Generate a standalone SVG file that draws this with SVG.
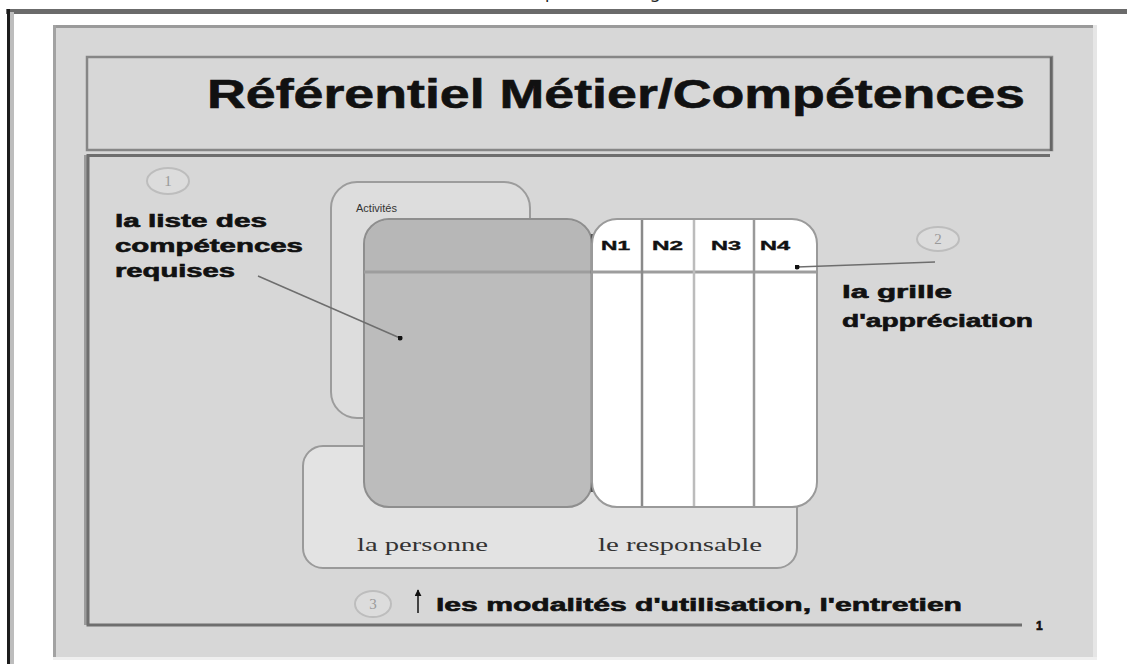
<svg xmlns="http://www.w3.org/2000/svg" width="1127" height="664" viewBox="0 0 1127 664">
  <defs>
    <style>
      .bold { font-family: "Liberation Sans", Arial, sans-serif; font-weight: bold; fill: #111; stroke: #111; stroke-width: 0.6; }
      .num { font-family: "Liberation Serif", serif; font-size: 15px; fill: #9a9a9a; text-anchor: middle; }
      .ring { fill: #dcdcdc; stroke: #bdbdbd; stroke-width: 2; }
      .serif { font-family: "Liberation Serif", "Times New Roman", serif; font-size: 19px; fill: #333; }
      .hdr { font-family: "Liberation Sans", Arial, sans-serif; font-weight: bold; font-size: 13.5px; fill: #111; stroke: #111; stroke-width: 0.4; }
      .pointer { stroke: #6e6e6e; stroke-width: 1.5; fill: none; }
      .col { stroke-width: 2.5; }
    </style>
    <marker id="dot" viewBox="0 0 6 6" refX="3" refY="3" markerWidth="5" markerHeight="5" markerUnits="userSpaceOnUse">
      <circle cx="3" cy="3" r="3" fill="#111"/>
    </marker>
    <!-- arrowhead drawn pointing along +x so orient="auto" follows the line -->
    <marker id="head" viewBox="0 0 8 8" refX="7" refY="4" markerWidth="7" markerHeight="7" markerUnits="userSpaceOnUse" orient="auto">
      <path d="M0,0 L8,4 L0,8 Z" fill="#111"/>
    </marker>
  </defs>

  <!-- page -->
  <rect x="0" y="0" width="1127" height="664" fill="#ffffff"/>
  <text x="545" y="-2" font-family="Noto Sans, sans-serif" font-size="17" fill="#222">p</text>
  <text x="650" y="-2" font-family="Noto Sans, sans-serif" font-size="17" fill="#222">g</text>
  <rect x="6" y="9" width="1121" height="5" fill="#6b6b6b"/>
  <rect x="7" y="9" width="3" height="655" fill="#1c1c1c"/>
  <rect x="10" y="12" width="4" height="652" fill="#bdbdbd"/>

  <!-- slide -->
  <g id="slide">
    <rect x="53" y="25" width="1041" height="632" fill="#d7d7d7"/>
    <rect x="53" y="25" width="1041" height="3" fill="#9a9a9a"/>
    <rect x="53" y="25" width="3" height="632" fill="#a2a2a2"/>
    <rect x="1093" y="25" width="4" height="635" fill="#e6e6e6"/>
    <rect x="53" y="657" width="1044" height="3" fill="#efefef"/>
  </g>

  <!-- title frame -->
  <g id="title">
    <rect x="87" y="57" width="965" height="93" fill="none" stroke="#868686" stroke-width="2.5"/>
    <line x1="1051" y1="57" x2="1051" y2="151" stroke="#666" stroke-width="2.5"/>
    <text class="bold" x="207" y="108" font-size="40" stroke-width="1.2" textLength="818" lengthAdjust="spacingAndGlyphs">Référentiel Métier/Compétences</text>
  </g>

  <!-- content frame -->
  <g id="frame">
    <rect x="84" y="155" width="4" height="470" fill="#9c9c9c"/>
    <path d="M1050,155.5 H88 V625 H1022" fill="none" stroke="#6e6e6e" stroke-width="3"/>
    <text class="bold" x="1036" y="630" font-size="12">1</text>
  </g>

  <!-- label 1 -->
  <g id="label-1">
    <ellipse class="ring" cx="168" cy="181" rx="21" ry="13"/>
    <text class="num" x="168" y="186">1</text>
    <text class="bold" x="115" y="227" font-size="18" textLength="152" lengthAdjust="spacingAndGlyphs">la liste des</text>
    <text class="bold" x="115" y="252" font-size="18" textLength="188" lengthAdjust="spacingAndGlyphs">compétences</text>
    <text class="bold" x="115" y="277" font-size="18" textLength="120" lengthAdjust="spacingAndGlyphs">requises</text>
  </g>

  <!-- activities -->
  <g id="activites">
    <rect x="331" y="182" width="199" height="236" rx="26" fill="#dddddd" stroke="#9c9c9c" stroke-width="2"/>
    <text x="356" y="212" font-family="Liberation Sans, Arial, sans-serif" font-size="11" fill="#333">Activités</text>
  </g>

  <!-- people -->
  <g id="acteurs">
    <rect x="303" y="446" width="494" height="122" rx="20" fill="#e3e3e3" stroke="#9a9a9a" stroke-width="2"/>
    <text class="serif" x="357" y="551" textLength="131" lengthAdjust="spacingAndGlyphs">la personne</text>
    <text class="serif" x="598" y="551" textLength="164" lengthAdjust="spacingAndGlyphs">le responsable</text>
  </g>

  <!-- competence list -->
  <g id="liste">
    <rect x="364" y="219" width="228" height="288" rx="25" fill="#bcbcbc" stroke="#8e8e8e" stroke-width="2"/>
    <path d="M365,272 V245 A25,25 0 0 1 389,220 H567 A25,25 0 0 1 591,245 V272 Z" fill="#b7b7b7"/>
    <line x1="364" y1="272" x2="592" y2="272" stroke="#9d9d9d" stroke-width="3"/>
    <line x1="592" y1="234" x2="592" y2="492" stroke="#555" stroke-width="2.5"/>
  </g>

  <!-- rating grid -->
  <g id="grille">
    <rect x="592" y="219" width="225" height="288" rx="25" fill="#ffffff" stroke="#9a9a9a" stroke-width="2"/>
    <line x1="593" y1="272" x2="816" y2="272" stroke="#9d9d9d" stroke-width="3"/>
    <line class="col" x1="642" y1="220" x2="642" y2="506" stroke="#8a8a8a"/>
    <line class="col" x1="694" y1="220" x2="694" y2="506" stroke="#bcbcbc" stroke-width="3.5"/>
    <line class="col" x1="754" y1="220" x2="754" y2="506" stroke="#9a9a9a"/>
    <text class="hdr" x="601" y="250" textLength="29" lengthAdjust="spacingAndGlyphs">N1</text>
    <text class="hdr" x="652" y="250" textLength="31" lengthAdjust="spacingAndGlyphs">N2</text>
    <text class="hdr" x="711" y="250" textLength="30" lengthAdjust="spacingAndGlyphs">N3</text>
    <text class="hdr" x="760" y="250" textLength="30" lengthAdjust="spacingAndGlyphs">N4</text>
  </g>

  <!-- label 2 -->
  <g id="label-2">
    <ellipse class="ring" cx="938" cy="239" rx="21" ry="12"/>
    <text class="num" x="938" y="244">2</text>
    <text class="bold" x="842" y="298" font-size="18" textLength="110" lengthAdjust="spacingAndGlyphs">la grille</text>
    <text class="bold" x="842" y="327" font-size="18" textLength="191" lengthAdjust="spacingAndGlyphs">d'appréciation</text>
  </g>

  <!-- label 3 -->
  <g id="label-3">
    <ellipse class="ring" cx="373" cy="604" rx="18" ry="13"/>
    <text class="num" x="373" y="609">3</text>
    <text class="bold" x="436" y="611" font-size="18" textLength="526" lengthAdjust="spacingAndGlyphs">les modalités d'utilisation, l'entretien</text>
  </g>

  <!-- connectors -->
  <g id="connectors">
    <line class="pointer" x1="258" y1="276" x2="400" y2="338" marker-end="url(#dot)"/>
    <line class="pointer" x1="935" y1="262" x2="797" y2="267" marker-end="url(#dot)"/>
    <line x1="418" y1="613" x2="418" y2="590" stroke="#333" stroke-width="1.8" marker-end="url(#head)"/>
  </g>
</svg>
